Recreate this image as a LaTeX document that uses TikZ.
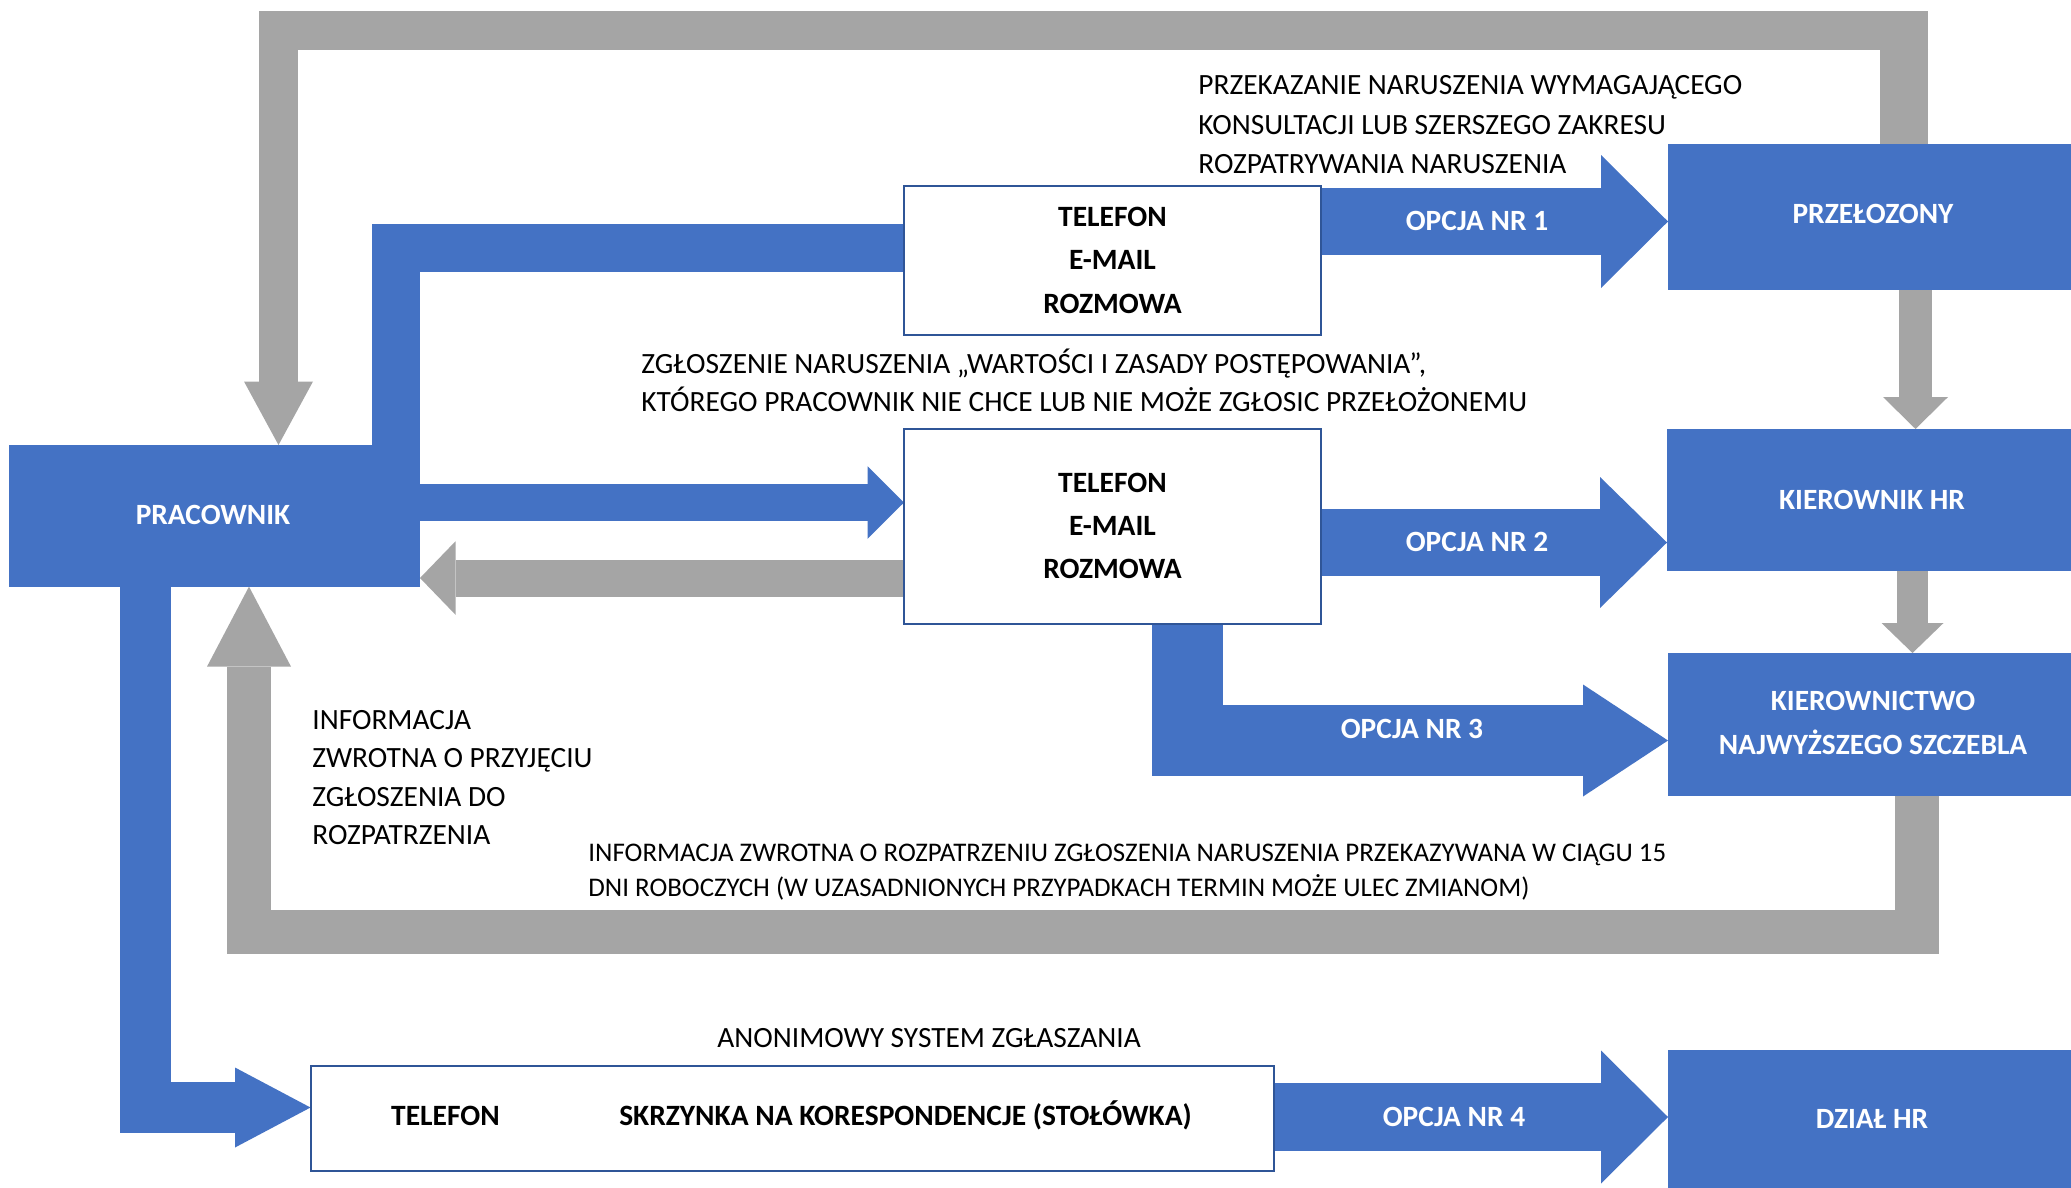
\documentclass[tikz,border=0pt]{standalone}
\usepackage{fontspec}
\setmainfont{Carlito}
\usetikzlibrary{arrows.meta,backgrounds}
\definecolor{flowblue}{HTML}{4472C4}
\definecolor{flowgray}{HTML}{A5A5A5}
\definecolor{edgeblue}{HTML}{2F5597}
\tikzset{
  bluebox/.style={fill=flowblue, draw=none, inner sep=0pt, outer sep=0pt, anchor=north west},
  whitebox/.style={fill=white, draw=edgeblue, line width=1pt, inner sep=0pt, outer sep=0pt, anchor=north west},
  lbl/.style={font=\fontsize{14.7}{16}\selectfont, inner sep=0pt, anchor=base west, text=black},
  smalllbl/.style={font=\fontsize{13.45}{16}\selectfont, inner sep=0pt, anchor=base west, text=black},
  blbl/.style={font=\fontsize{14.75}{16}\selectfont\bfseries, inner sep=0pt, anchor=base, text=black},
  wlbl/.style={font=\fontsize{14.7}{16}\selectfont\bfseries, inner sep=0pt, anchor=base, text=white},
  blueflow/.style={draw=flowblue, line join=miter, line cap=butt},
  grayflow/.style={draw=flowgray, line join=miter, line cap=butt},
}
\begin{document}
\begin{tikzpicture}[x=0.5pt,y=-0.5pt]
\useasboundingbox (0,0) rectangle (2071,1188);

% boxes
\node[bluebox, minimum width=205.5pt, minimum height=70.8pt] (prac) at (9,445) {};
\node[whitebox, minimum width=208.5pt, minimum height=74.75pt] (box1) at (904,185.5) {};
\node[whitebox, minimum width=208.5pt, minimum height=97.5pt] (box2) at (904,429) {};
\node[whitebox, minimum width=481.75pt, minimum height=52.25pt] (box3) at (310.5,1066) {};
\node[bluebox, minimum width=201.5pt, minimum height=73.25pt] (przel) at (1668,143.5) {};
\node[bluebox, minimum width=202pt, minimum height=71pt] (kierhr) at (1667,429) {};
\node[bluebox, minimum width=201.5pt, minimum height=71.5pt] (kiernic) at (1668,653) {};
\node[bluebox, minimum width=201.5pt, minimum height=69pt] (dzial) at (1668,1050) {};

% helper coordinates
\coordinate (gR) at (1904,10.7);
\coordinate (gTop) at (1928,30.2);
\coordinate (gL) at (278.5,0);
\coordinate (b1y) at (0,248);
\coordinate (b1x) at (396,0);
\coordinate (a2) at (0,502.5);
\coordinate (a3) at (0,578);
\coordinate (b3x) at (145,0);
\coordinate (b3y) at (0,1107.5);
\coordinate (fbR) at (1917,931.5);
\coordinate (fbL) at (249,931.5);
\coordinate (g1x) at (1915.5,0);
\coordinate (g2x) at (1912.5,0);
\coordinate (o1) at (0,221.5);
\coordinate (o2) at (0,542.5);
\coordinate (o3x) at (1187.5,0);
\coordinate (o3y) at (0,740.5);
\coordinate (o4) at (0,1117);

\begin{scope}[on background layer]
\fill[white] (0,0) rectangle (2071,1188);
% gray top loop
\draw[grayflow, line width=24pt] (przel.north -| gR) -- (gR);
\draw[grayflow, line width=19.5pt, -{Triangle[length=31.75pt,width=34.5pt,line width=0pt]}] (gTop) -| (prac.north -| gL);
% blue box1 -> pracownik
\draw[blueflow, line width=24pt] (box1.west |- b1y) -| (prac.north -| b1x);
% pracownik -> box2
\draw[blueflow, line width=18.5pt, -{Triangle[length=18.25pt,width=36.25pt,line width=0pt]}] (prac.east |- a2) -- (box2.west |- a2);
% box2 -> pracownik
\draw[grayflow, line width=18.5pt, -{Triangle[length=17.75pt,width=36.75pt,line width=0pt]}] (box2.west |- a3) -- (prac.east |- a3);
% pracownik -> box3
\draw[blueflow, line width=25.5pt, -{Triangle[length=37.75pt,width=40pt,line width=0pt]}] (prac.south -| b3x) |- (box3.west |- b3y);
% feedback loop
\draw[grayflow, line width=22pt, -{Triangle[length=40pt,width=42pt,line width=0pt]}] (kiernic.south -| fbR) -- (fbR) -- (fbL) -- (prac.south -| fbL);
% przelozony -> kierownik hr
\draw[grayflow, line width=16.5pt, -{Triangle[length=16pt,width=32.5pt,line width=0pt]}] (przel.south -| g1x) -- (kierhr.north -| g1x);
% kierownik hr -> kierownictwo
\draw[grayflow, line width=15.5pt, -{Triangle[length=15pt,width=31pt,line width=0pt]}] (kierhr.south -| g2x) -- (kiernic.north -| g2x);
% opcje
\draw[blueflow, line width=33.5pt, -{Triangle[length=33.5pt,width=66.5pt,line width=0pt]}] (box1.east |- o1) -- (przel.west |- o1);
\draw[blueflow, line width=33.5pt, -{Triangle[length=33.5pt,width=65.5pt,line width=0pt]}] (box2.east |- o2) -- (kierhr.west |- o2);
\draw[blueflow, line width=35.5pt, -{Triangle[length=42.5pt,width=56pt,line width=0pt]}] (box2.south -| o3x) |- (kiernic.west |- o3y);
\draw[blueflow, line width=33.75pt, -{Triangle[length=33.5pt,width=66.5pt,line width=0pt]}] (box3.east |- o4) -- (dzial.west |- o4);
\end{scope}

% free labels
\node[lbl] (n1a) at (1198,95) {PRZEKAZANIE NARUSZENIA WYMAGAJĄCEGO};
\node[lbl] (n1b) at (1198,134) {KONSULTACJI LUB SZERSZEGO ZAKRESU};
\node[lbl] (n1c) at (1198,173) {ROZPATRYWANIA NARUSZENIA};
\node[lbl] (n2a) at (641,373) {ZGŁOSZENIE NARUSZENIA „WARTOŚCI I ZASADY POSTĘPOWANIA”,};
\node[lbl] (n2b) at (641,411.4) {KTÓREGO PRACOWNIK NIE CHCE LUB NIE MOŻE ZGŁOSIC PRZEŁOŻONEMU};
\node[lbl] (n3a) at (312,729.2) {INFORMACJA};
\node[lbl] (n3b) at (312,767.3) {ZWROTNA O PRZYJĘCIU};
\node[lbl] (n3c) at (312,806.2) {ZGŁOSZENIA DO};
\node[lbl] (n3d) at (312,844.8) {ROZPATRZENIA};
\node[smalllbl] (n4a) at (588,861.5) {INFORMACJA ZWROTNA O ROZPATRZENIU ZGŁOSZENIA NARUSZENIA PRZEKAZYWANA W CIĄGU 15};
\node[smalllbl] (n4b) at (588,896.2) {DNI ROBOCZYCH (W UZASADNIONYCH PRZYPADKACH TERMIN MOŻE ULEC ZMIANOM)};
\node[lbl] (n5) at (717,1047.7) {ANONIMOWY SYSTEM ZGŁASZANIA};

% box texts
\node[blbl] (t1a) at (1112.5,226.6) {TELEFON};
\node[blbl] (t1b) at (1112.5,269.8) {E-MAIL};
\node[blbl] (t1c) at (1112.5,313) {ROZMOWA};
\node[blbl] (t2a) at (1112.5,492.5) {TELEFON};
\node[blbl] (t2b) at (1112.5,535.8) {E-MAIL};
\node[blbl] (t2c) at (1112.5,578.6) {ROZMOWA};
\node[blbl] (t3a) at (445.5,1125) {TELEFON};
\node[blbl] (t3b) at (905.5,1125) {SKRZYNKA NA KORESPONDENCJE (STOŁÓWKA)};

% white texts
\node[wlbl] (wprac) at (213,524.3) {PRACOWNIK};
\node[wlbl] (wprzel) at (1873,223.5) {PRZEŁOZONY};
\node[wlbl] (wop1) at (1477,230.4) {OPCJA NR 1};
\node[wlbl] (wkhr) at (1872,509) {KIEROWNIK HR};
\node[wlbl] (wop2) at (1477,551) {OPCJA NR 2};
\node[wlbl] (wkn1) at (1873,710) {KIEROWNICTWO};
\node[wlbl] (wkn2) at (1873,754) {NAJWYŻSZEGO SZCZEBLA};
\node[wlbl] (wop3) at (1412,738) {OPCJA NR 3};
\node[wlbl] (wdz) at (1872,1128) {DZIAŁ HR};
\node[wlbl] (wop4) at (1454,1126) {OPCJA NR 4};
\end{tikzpicture}
\end{document}
